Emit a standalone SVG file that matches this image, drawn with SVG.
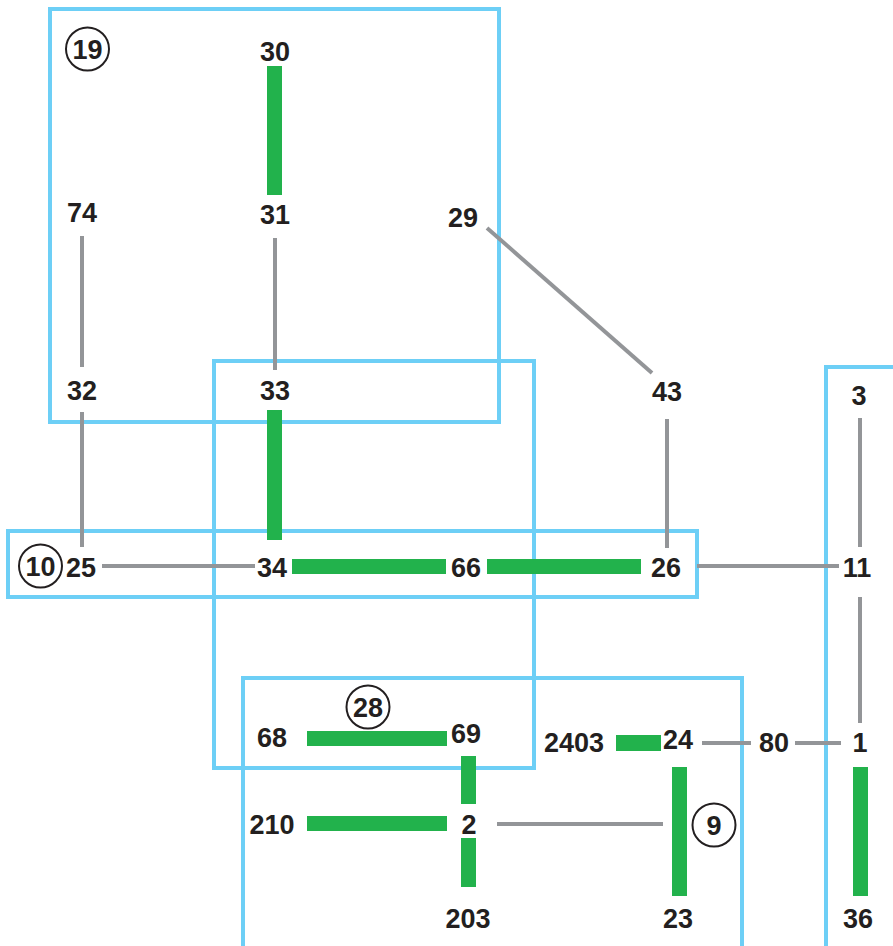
<svg xmlns="http://www.w3.org/2000/svg" width="893" height="946" viewBox="0 0 893 946">
<style>
.box{fill:none;stroke:#6dcff6;stroke-width:4}
.g{fill:#22b24c}
.c{stroke:#939598;stroke-width:4;fill:none}
.t{font-family:"Liberation Sans",Arial,sans-serif;font-weight:bold;font-size:27px;fill:#231f20;text-anchor:middle}
.ring{fill:none;stroke:#231f20;stroke-width:2}
</style>
<rect width="893" height="946" fill="#fff"/>
<g id="areas">
<rect class="box" x="50" y="9" width="449" height="413"/>
<rect class="box" x="214" y="361" width="320" height="407"/>
<rect class="box" x="8" y="531" width="689" height="66"/>
<rect class="box" x="243" y="678" width="499" height="270"/>
<rect class="box" x="826" y="367" width="80" height="590"/>
</g>
<g id="connectors">
<rect class="g" x="267" y="66" width="15" height="129"/>
<rect class="g" x="267" y="410" width="15" height="130"/>
<rect class="g" x="292" y="559" width="154" height="15"/>
<rect class="g" x="487" y="559" width="154" height="15"/>
<rect class="g" x="307" y="731" width="140" height="15"/>
<rect class="g" x="461" y="756" width="15" height="48"/>
<rect class="g" x="307" y="816" width="140" height="15"/>
<rect class="g" x="461" y="838" width="15" height="49"/>
<rect class="g" x="616" y="735" width="45" height="16"/>
<rect class="g" x="672" y="767" width="15" height="129"/>
<rect class="g" x="853" y="767" width="15" height="129"/>
<line class="c" x1="82" y1="236" x2="82" y2="367"/>
<line class="c" x1="275" y1="238" x2="275" y2="370"/>
<line class="c" x1="487" y1="228" x2="652" y2="373"/>
<line class="c" x1="667" y1="419" x2="667" y2="548"/>
<line class="c" x1="82" y1="412" x2="82" y2="547"/>
<line class="c" x1="102" y1="566" x2="255" y2="566"/>
<line class="c" x1="697" y1="566" x2="839" y2="566"/>
<line class="c" x1="860" y1="418" x2="860" y2="547"/>
<line class="c" x1="860" y1="597" x2="860" y2="723"/>
<line class="c" x1="702" y1="743" x2="751" y2="743"/>
<line class="c" x1="795" y1="743" x2="841" y2="743"/>
<line class="c" x1="497" y1="824" x2="663" y2="824"/>
</g>
<g id="n30"><text class="t" x="275" y="61">30</text></g>
<g id="n74"><text class="t" x="82" y="222">74</text></g>
<g id="n31"><text class="t" x="275" y="224">31</text></g>
<g id="n29"><text class="t" x="463" y="227">29</text></g>
<g id="n43"><text class="t" x="667" y="401">43</text></g>
<g id="n32"><text class="t" x="82" y="400">32</text></g>
<g id="n33"><text class="t" x="275" y="400">33</text></g>
<g id="n3"><text class="t" x="859" y="405">3</text></g>
<g id="n25"><text class="t" x="81" y="577">25</text></g>
<g id="n34"><text class="t" x="272" y="577">34</text></g>
<g id="n66"><text class="t" x="466" y="577">66</text></g>
<g id="n26"><text class="t" x="666" y="577">26</text></g>
<g id="n11"><text class="t" x="857" y="577">11</text></g>
<g id="n68"><text class="t" x="272" y="747">68</text></g>
<g id="n69"><text class="t" x="466" y="743">69</text></g>
<g id="n2403"><text class="t" x="574" y="752">2403</text></g>
<g id="n24"><text class="t" x="678" y="749">24</text></g>
<g id="n80"><text class="t" x="774" y="752">80</text></g>
<g id="n1"><text class="t" x="860" y="752">1</text></g>
<g id="n210"><text class="t" x="272" y="834">210</text></g>
<g id="n2"><text class="t" x="469" y="834">2</text></g>
<g id="n203"><text class="t" x="468" y="928">203</text></g>
<g id="n23"><text class="t" x="678" y="928">23</text></g>
<g id="n36"><text class="t" x="858" y="928">36</text></g>
<g id="a19"><circle class="ring" cx="87.5" cy="49" r="21.5"/><text class="t" x="87.5" y="58.5">19</text></g>
<g id="a10"><circle class="ring" cx="40.5" cy="566" r="21.5"/><text class="t" x="40.5" y="575.5">10</text></g>
<g id="a28"><circle class="ring" cx="368" cy="707" r="21.5"/><text class="t" x="368" y="716.5">28</text></g>
<g id="a9"><circle class="ring" cx="714" cy="825" r="21.5"/><text class="t" x="714" y="834.5">9</text></g>
</svg>
